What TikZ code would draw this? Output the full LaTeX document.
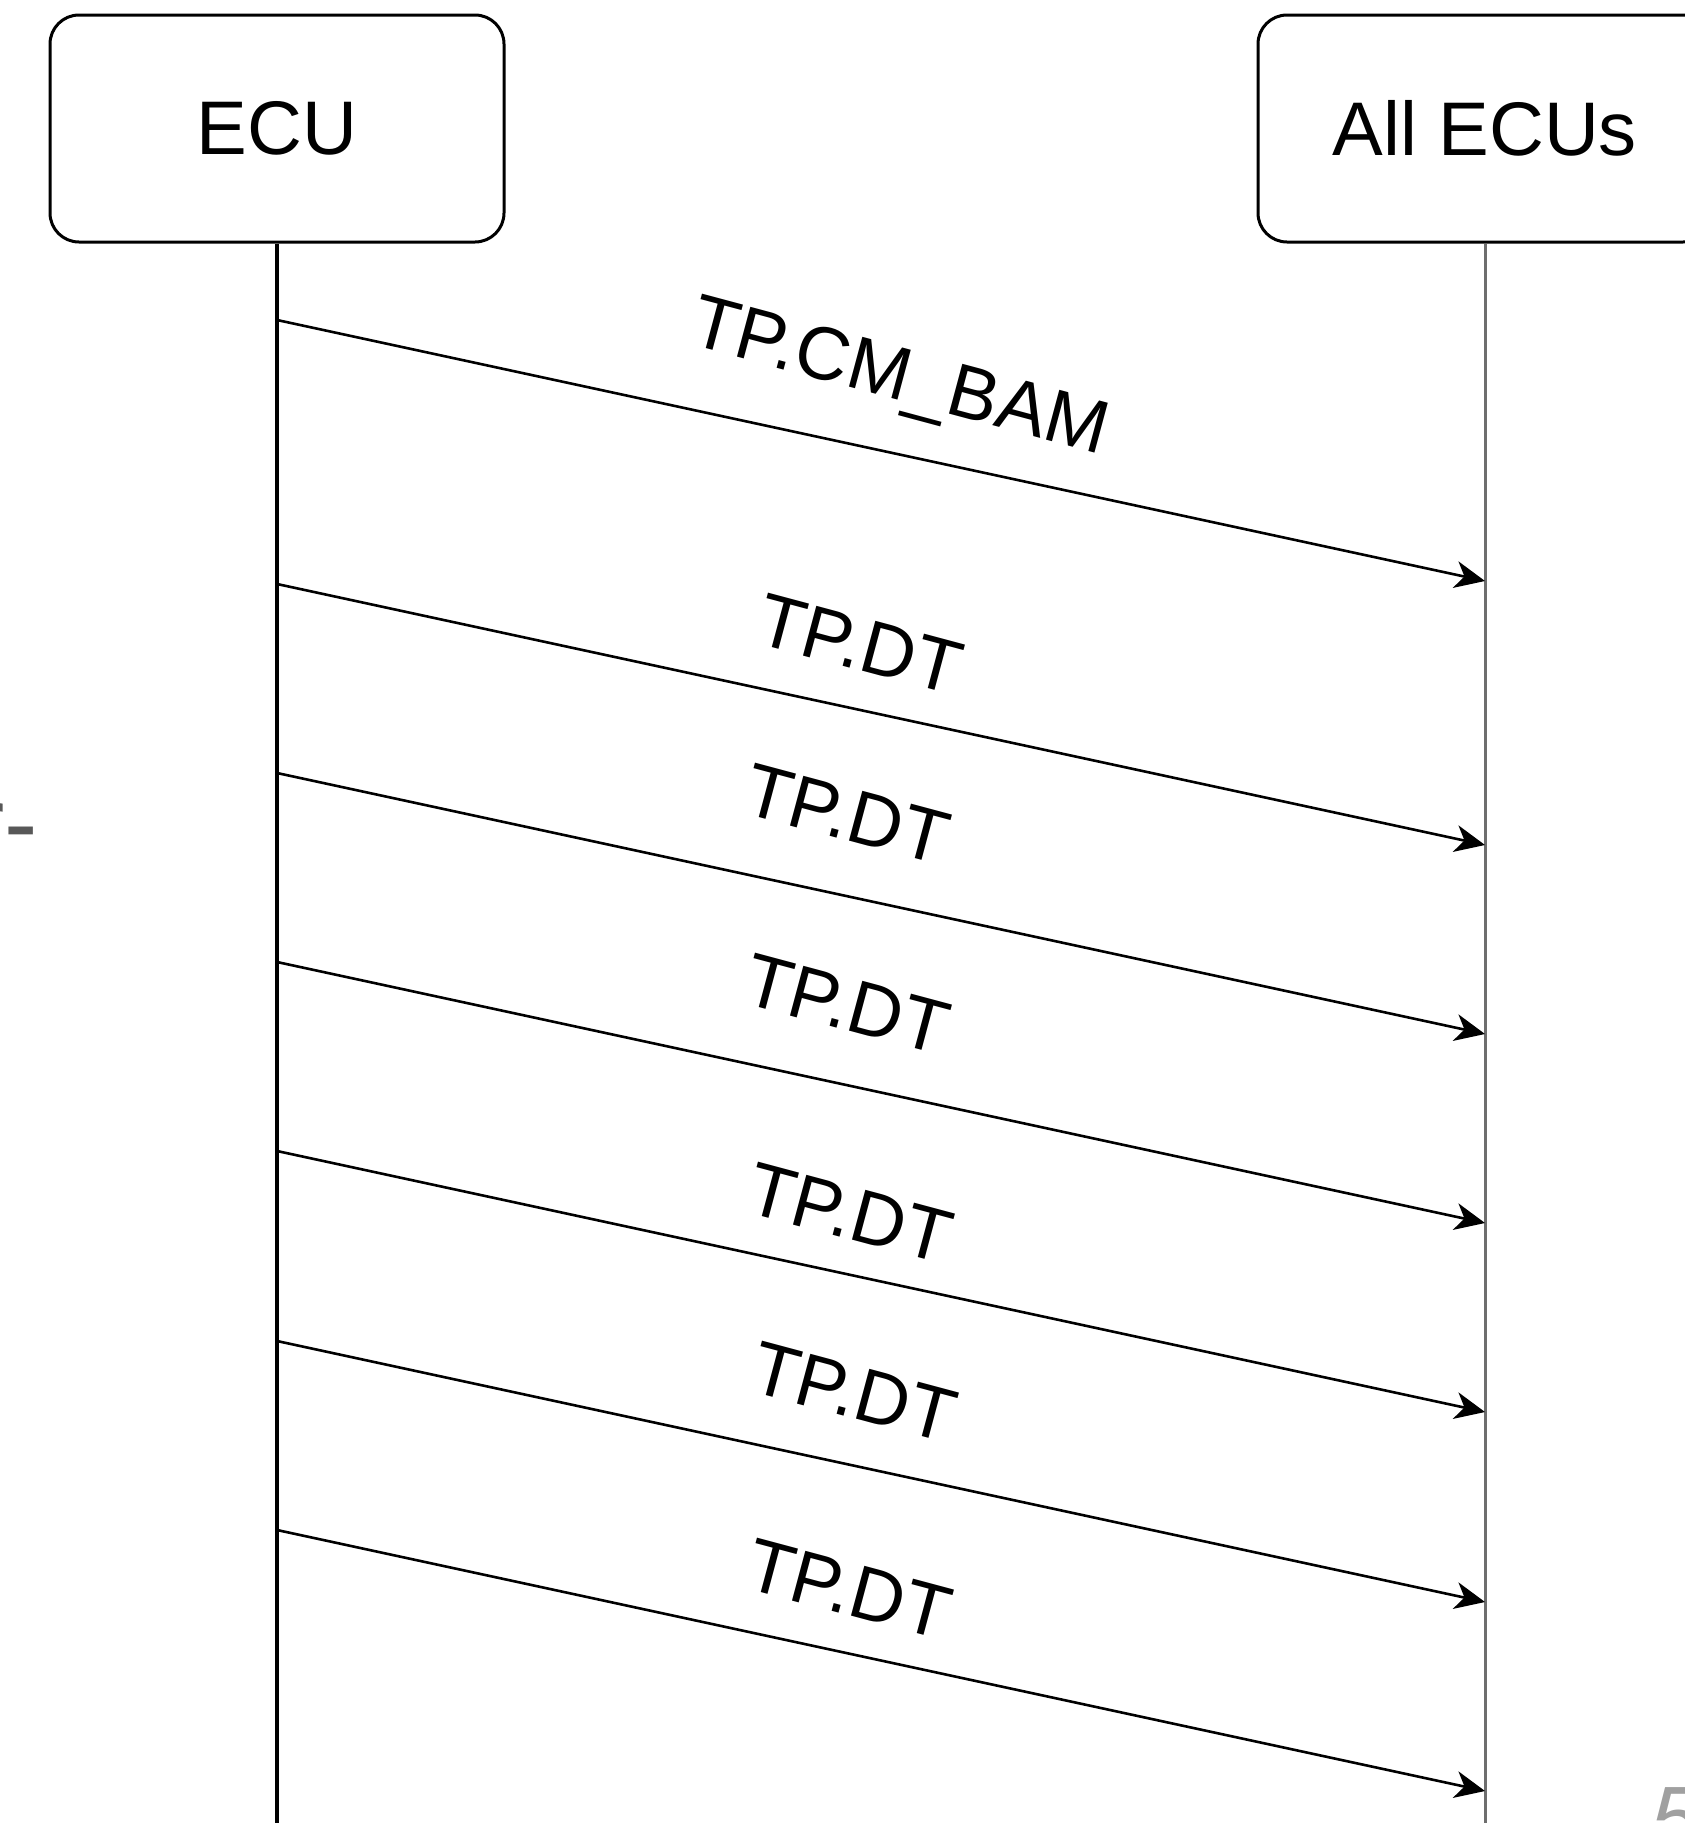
\documentclass[tikz,border=0pt]{standalone}
\usepackage{fontspec}
\setmainfont{Liberation Sans}
\usetikzlibrary{arrows.meta}

\definecolor{fragdark}{HTML}{585858}
\definecolor{fraglight}{HTML}{A0A0A0}
\definecolor{lifegray}{HTML}{6E6E6E}

\begin{document}
\begin{tikzpicture}[x=1pt,y=-1pt,
  party/.style={draw, line width=3pt, rounded corners=29pt,
    minimum width=454pt, minimum height=227pt, inner sep=0pt,
    font=\fontsize{76}{92}\selectfont},
  lifeline/.style={line width=3.4pt},
  msg/.style={line width=2.6pt, -{Stealth[length=30pt, width=27pt, inset=9pt]}},
  msglabel/.style={inner sep=2pt, fill=white, rotate=-15,
    font=\fontsize{75}{90}\selectfont}]
\useasboundingbox (0,0) rectangle (1685,1823);

% participants
\node[party] (ecu) at (277,128.5) {ECU};
\node[party] (all) at (1485,128.5) {All ECUs};

% lifelines
\coordinate (ecuend) at (277,1840);
\coordinate (allend) at (1485,1840);
\draw[lifeline] (ecu.south) -- (ecuend);
\draw[line width=3pt, lifegray] (all.south) -- (allend);

% messages
\foreach \i/\ys/\lx/\ly/\txt in {
    1/320/899/381/TP.CM\_BAM,
    2/584/860/644/TP.DT,
    3/773/847/814/TP.DT,
    4/962/847/1004/TP.DT,
    5/1151/850/1213/TP.DT,
    6/1341/854/1392/TP.DT,
    7/1530/849/1589/TP.DT} {
  \coordinate (s\i) at (277,\ys);
  \coordinate (e\i) at (1485,\ys+261);
  \draw[msg] (s\i) -- (e\i);
  \node[msglabel] (l\i) at (\lx,\ly) {\txt};
}

% text running off the page edges
\node[anchor=base west, inner sep=0pt, text=fragdark,
  font=\fontsize{100}{120}\selectfont] (frag) at (-29,857) {r-};
\node[anchor=base west, inner sep=0pt, text=fraglight,
  font=\fontsize{90}{108}\selectfont\itshape] (pagenum) at (1650,1849) {5};
\end{tikzpicture}
\end{document}
